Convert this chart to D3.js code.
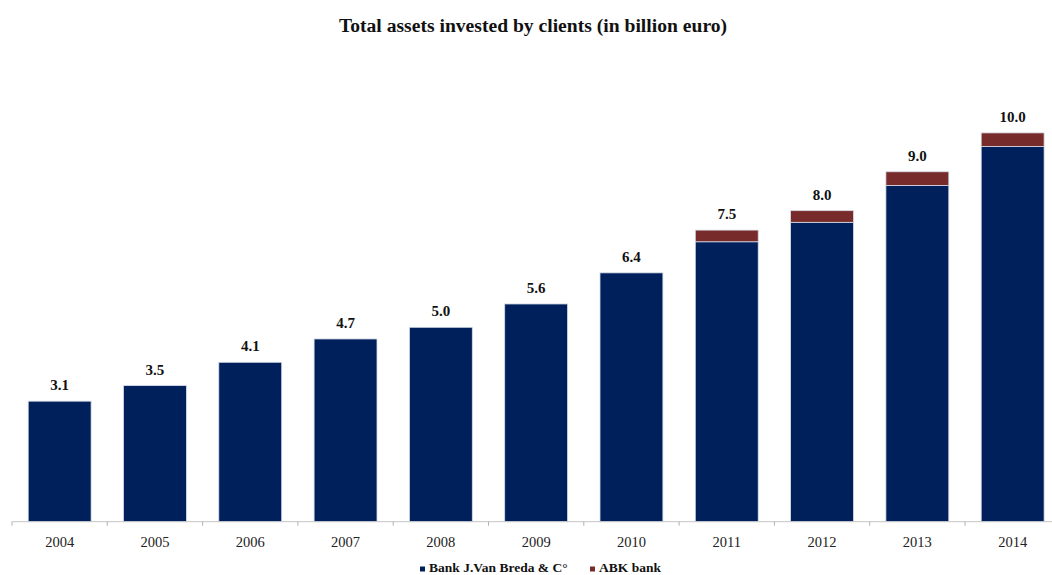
<!DOCTYPE html>
<html>
<head>
<meta charset="utf-8">
<script src="https://cdn.jsdelivr.net/npm/d3@7/dist/d3.min.js"></script>
<style>
  html, body { margin: 0; padding: 0; background: #ffffff; }
  svg { display: block; }
</style>
</head>
<body>
<svg id="chart" width="1052" height="575"></svg>
<script>
// Assets invested by clients, billion euro
const years = ["2004","2005","2006","2007","2008","2009","2010","2011","2012","2013","2014"];
const vanBreda = [3.1, 3.5, 4.1, 4.7, 5.0, 5.6, 6.4, 7.2, 7.7, 8.65, 9.65];
const abk      = [0,   0,   0,   0,   0,   0,   0,   0.3, 0.3, 0.35, 0.35];
const totals   = [3.1, 3.5, 4.1, 4.7, 5.0, 5.6, 6.4, 7.5, 8.0, 9.0, 10.0];
const seriesNames = ["Bank J.Van Breda & C°", "ABK bank"];
const seriesColors = ["#00205c", "#772b2b"];

const svg = d3.select("#chart");
const serif = "'Liberation Serif', 'Times New Roman', serif";

const x = d3.scaleBand()
  .domain(years)
  .range([12, 1060.3])
  .paddingInner(0.34)
  .paddingOuter(0.17);

const y = d3.scaleLinear()
  .domain([0, 10])
  .range([521.7, 132.9]);

// Title
svg.append("text")
  .attr("x", 533)
  .attr("y", 31.5)
  .attr("text-anchor", "middle")
  .attr("font-family", serif)
  .attr("font-weight", "bold")
  .attr("font-size", 19.6)
  .attr("fill", "#111")
  .text("Total assets invested by clients (in billion euro)");

// Stacked series
const rows = years.map((yr, i) => ({ year: yr, bank: vanBreda[i], abk: abk[i] }));
const stack = d3.stack().keys(["bank", "abk"]);
const layers = stack(rows);

svg.append("g").selectAll("g")
  .data(layers)
  .join("g")
  .attr("fill", (d, i) => seriesColors[i])
  .selectAll("rect")
  .data(d => d.filter(s => s[1] - s[0] > 0))
  .join("rect")
  .attr("x", d => x(d.data.year))
  .attr("y", d => y(d[1]))
  .attr("width", x.bandwidth())
  .attr("height", d => y(d[0]) - y(d[1]))
  .attr("stroke", "#d6dbe8")
  .attr("stroke-width", 0.8);

// Total labels
svg.append("g").selectAll("text")
  .data(years)
  .join("text")
  .attr("x", d => x(d) + x.bandwidth() / 2)
  .attr("y", (d, i) => y(totals[i]) - 11)
  .attr("text-anchor", "middle")
  .attr("font-family", serif)
  .attr("font-weight", "bold")
  .attr("font-size", 15)
  .attr("fill", "#111")
  .text((d, i) => totals[i].toFixed(1));

// X axis with ticks on category boundaries
const axisG = svg.append("g").attr("transform", `translate(0,${y(0)})`);
axisG.append("line")
  .attr("x1", x.range()[0]).attr("x2", x.range()[1])
  .attr("stroke", "#c4c4c4").attr("stroke-width", 1);
const bounds = [x.range()[0]].concat(years.slice(1).map(d => x(d) - x.step() * x.paddingInner() / 2));
bounds.push(x.range()[1]);
axisG.selectAll("line.tick")
  .data(bounds)
  .join("line")
  .attr("class", "tick")
  .attr("x1", d => d).attr("x2", d => d)
  .attr("y1", 0).attr("y2", 4)
  .attr("stroke", "#b0b0b0").attr("stroke-width", 1);

const xAxis = d3.axisBottom(x).tickSize(0).tickPadding(0);
const axisLabels = svg.append("g")
  .attr("transform", `translate(0,${y(0)})`)
  .call(xAxis);
axisLabels.select(".domain").remove();
axisLabels.selectAll("text")
  .attr("y", 25.5)
  .attr("dy", 0)
  .attr("font-family", serif)
  .attr("font-size", 14.5)
  .attr("fill", "#222");

// Legend
const legend = svg.append("g");
const legendItems = [{ x: 420, name: seriesNames[0], color: seriesColors[0] },
                     { x: 590, name: seriesNames[1], color: seriesColors[1] }];
legendItems.forEach(it => {
  legend.append("rect")
    .attr("x", it.x).attr("y", 566.5)
    .attr("width", 5).attr("height", 5)
    .attr("fill", it.color);
  legend.append("text")
    .attr("x", it.x + 9).attr("y", 571.5)
    .attr("font-family", serif)
    .attr("font-weight", "bold")
    .attr("font-size", 13.5)
    .attr("fill", "#111")
    .text(it.name);
});
</script>
</body>
</html>
